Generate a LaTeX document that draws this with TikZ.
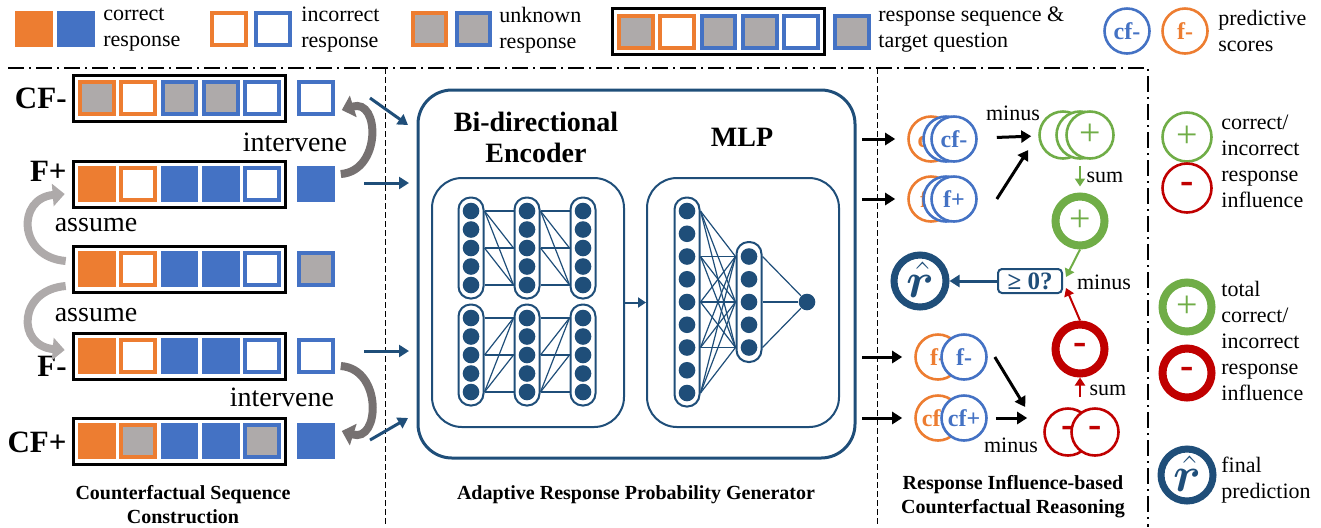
\documentclass[tikz,border=0pt]{standalone}
\usepackage{fontspec}
\setmainfont{Liberation Serif}
\usepackage{amsmath}
\usepackage{bm}
\usetikzlibrary{arrows.meta}
\usetikzlibrary{calc}
\usetikzlibrary{fit}
\usetikzlibrary{positioning}

\definecolor{corange}{HTML}{ED7D31}
\definecolor{cblue}{HTML}{4472C4}
\definecolor{cgray}{HTML}{AEAAAA}
\definecolor{cdark}{HTML}{767171}
\definecolor{navy}{HTML}{1F4E79}
\definecolor{cgreen}{HTML}{70AD47}
\definecolor{cred}{HTML}{C00000}

\tikzset{
  sq/.style={minimum width=18.8pt,minimum height=18pt,inner sep=0pt,outer sep=0pt},
  sqo/.style={sq,minimum width=16.8pt,minimum height=16pt,line width=2pt,outer sep=1pt},
  cor/.style={sq,fill=corange},
  cbl/.style={sq,fill=cblue},
  ior/.style={sqo,draw=corange,fill=white},
  ibl/.style={sqo,draw=cblue,fill=white},
  uor/.style={sqo,draw=corange,fill=cgray},
  ubl/.style={sqo,draw=cblue,fill=cgray},
  seqbox/.style={draw,line width=1.5pt,inner sep=2.5pt},
  txt/.style={font=\fontsize{11}{13}\selectfont,align=left,inner sep=0pt},
  rowlab/.style={font=\bfseries\fontsize{15.5}{16}\selectfont,anchor=east,inner sep=0pt},
  big/.style={font=\fontsize{14}{16}\selectfont,inner sep=0pt},
  captxt/.style={font=\bfseries\fontsize{10}{12}\selectfont,align=center,inner sep=0pt},
  bigarr/.style={line width=4pt,-{Triangle[length=6pt,width=11pt]}},
  inarr/.style={navy,line width=1.5pt,-{Triangle[length=5pt,width=6pt]}},
  outarr/.style={black,line width=1.5pt,-{Triangle[length=5pt,width=6pt]}},
  garr/.style={cgreen,line width=1pt,-{Triangle[length=4pt,width=5pt]}},
  rarr/.style={cred,line width=1pt,-{Triangle[length=4pt,width=5pt]}},
  pill/.style={draw=navy,line width=1pt,rounded corners=6pt,minimum width=12.5pt,inner sep=0pt},
  neuron/.style={circle,fill=navy,minimum size=8.3pt,inner sep=0pt},
  link/.style={navy,line width=0.6pt},
  score/.style={circle,draw,line width=1.3pt,fill=white,minimum size=22.5pt,inner sep=0pt,font=\bfseries\fontsize{12}{12}\selectfont},
  infl/.style={circle,draw,line width=1.3pt,fill=white,minimum size=23.5pt,inner sep=0pt},
  total/.style={circle,draw,line width=4pt,fill=white,minimum size=24.5pt,inner sep=0pt},
  rhat/.style={circle,draw=navy,line width=3.5pt,fill=white,minimum size=26pt,inner sep=0pt},
  rhtxt/.style={text=navy,inner sep=0pt,font=\fontsize{29}{29}\selectfont},
  pl/.style={font=\fontsize{19}{19}\selectfont},
  mi/.style={font=\bfseries\fontsize{20}{20}\selectfont},
}

\begin{document}
\begin{tikzpicture}[x=0.5pt,y=-0.5pt]
\useasboundingbox (0,0) rectangle (1321,527);

% legend
\node[cor] (l1a) at (34,29) {};
\node[cbl] (l1b) at (76,29) {};
\node[txt,anchor=west] (l1t) at (103,30) {correct\\response};
\node[ior] (l2a) at (229,29) {};
\node[ibl] (l2b) at (273,29) {};
\node[txt,anchor=west] (l2t) at (301,30) {incorrect\\response};
\node[uor] (l3a) at (429.5,29) {};
\node[ubl] (l3b) at (473.5,29) {};
\node[txt,anchor=west] (l3t) at (499,30) {unknown\\response};
\foreach \s [count=\i from 0] in {uor,ior,ubl,ubl,ibl}
  \node[\s] (lg\i) at ({636+41.25*\i},31.5) {};
\node[seqbox,fit=(lg0)(lg4)] (lgbox) {};
\node[ubl] (tlg) at (852,31.5) {};
\node[txt,anchor=west] (l4t) at (878,30) {response sequence \&\\target question};
\node[cblue,score] (lcf) at (1127,31) {cf-};
\node[corange,score] (lf) at (1185,31) {f-};
\node[txt,anchor=west] (l5t) at (1218,31) {predictive\\scores};

\draw[line width=0.8pt,dash pattern=on 8pt off 2.5pt on 1pt off 2.5pt] (8,68) -- (1148,68) -- (1148,527);
\draw[line width=0.5pt,dash pattern=on 3pt off 1.5pt] (385,68) -- (385,527);
\draw[line width=0.5pt,dash pattern=on 3pt off 1.5pt] (877,68) -- (877,527);

% sequences
\foreach \s [count=\i from 0] in {uor,ior,ubl,ubl,ibl}
  \node[\s] (cfm\i) at ({97+41.25*\i},98) {};
\node[seqbox,fit=(cfm0)(cfm4)] (cfmbox) {};
\node[ibl] (tcfm) at (316,98) {};
\node[rowlab] (lcfm) at (67,98) {CF-};

\foreach \s [count=\i from 0] in {cor,ior,cbl,cbl,ibl}
  \node[\s] (fp\i) at ({97+41.25*\i},184) {};
\node[seqbox,fit=(fp0)(fp4)] (fpbox) {};
\node[cbl] (tfp) at (316,184) {};
\node[rowlab] (lfp) at (67,171) {F+};

\foreach \s [count=\i from 0] in {cor,ior,cbl,cbl,ibl}
  \node[\s] (ob\i) at ({97+41.25*\i},269) {};
\node[seqbox,fit=(ob0)(ob4)] (obbox) {};
\node[ubl] (tob) at (316,269) {};

\foreach \s [count=\i from 0] in {cor,ior,cbl,cbl,ibl}
  \node[\s] (fm\i) at ({97+41.25*\i},356) {};
\node[seqbox,fit=(fm0)(fm4)] (fmbox) {};
\node[ibl] (tfm) at (316,356) {};
\node[rowlab] (lfm) at (67,366) {F-};

\foreach \s [count=\i from 0] in {cor,uor,cbl,cbl,ubl}
  \node[\s] (cfp\i) at ({97+41.25*\i},441) {};
\node[seqbox,fit=(cfp0)(cfp4)] (cfpbox) {};
\node[cbl] (tcfp) at (316,441) {};
\node[rowlab] (lcfp) at (67,442) {CF+};

\draw[bigarr,cdark] ($(tfp.east)+(6,-10)$) .. controls +(41,-3) and +(38,-12) .. ($(tcfm.east)+(7,12)$);
\draw[bigarr,cdark] ($(tfm.east)+(6,10)$) .. controls +(42,3) and +(38,12) .. ($(tcfp.east)+(7,-10)$);
\draw[bigarr,cgray] ($(obbox.west)+(-6,-8)$) .. controls +(-48,-4) and +(-48,4) .. ($(fpbox.west)+(-7,10)$);
\draw[bigarr,cgray] ($(obbox.west)+(-6,17)$) .. controls +(-48,4) and +(-48,-4) .. ($(fmbox.west)+(-7,-6)$);
\node[big] (iv1) at (295,142) {intervene};
\node[big] (iv2) at (282,397) {intervene};
\node[big] (as1) at (96,225) {assume};
\node[big] (as2) at (96,315) {assume};
\node[captxt] (cap1) at (183,505) {Counterfactual Sequence\\Construction};

% generator
\coordinate (ia1) at (370,98);  \coordinate (ib1) at (408,125);
\coordinate (ia2) at (364,183); \coordinate (ib2) at (409,183);
\coordinate (ia3) at (364,351); \coordinate (ib3) at (409,351);
\coordinate (ia4) at (370,440); \coordinate (ib4) at (408,418);
\foreach \k in {1,...,4}
  \draw[inarr] (ia\k) -- (ib\k);

\node[draw=navy,line width=1.5pt,rounded corners=17pt,minimum width=218.5pt,minimum height=184pt] (gen) at (636.5,274) {};
\node[draw=navy,line width=1pt,rounded corners=15pt,minimum width=96pt,minimum height=124.5pt] (enc) at (528,302.5) {};
\node[draw=navy,line width=1pt,rounded corners=15pt,minimum width=96pt,minimum height=124.5pt] (mlp) at (743,302.5) {};
\node[font=\bfseries\fontsize{14}{15.5}\selectfont,align=center] (enct) at (536,137.5) {Bi-directional\\Encoder};
\node[font=\bfseries\fontsize{14}{15.5}\selectfont] (mlpt) at (742,137) {MLP};
\draw[navy,line width=1pt,-{Triangle[length=4pt,width=5pt]}] (enc) -- (mlp);

\foreach \c/\x in {1/471,2/527,3/583} {
  \node[pill,minimum height=50.5pt] (pa\c) at (\x,248) {};
  \node[pill,minimum height=50.5pt] (pb\c) at (\x,355) {};
  \foreach \r in {1,...,5} {
    \node[neuron] (na\c\r) at (\x,{192.5+18.5*\r}) {};
    \node[neuron] (nb\c\r) at (\x,{299.5+18.5*\r}) {};
  }
}
\foreach \c/\d in {1/2,2/3} {
  \foreach \i/\j in {1/1,3/3,5/5,1/3,1/5,3/5}
    \draw[link] (pa\c.east |- na\c\i) -- (pa\d.west |- na\d\j);
  \foreach \i/\j in {1/1,3/3,5/5,5/3,5/1,3/1}
    \draw[link] (pb\c.east |- nb\c\i) -- (pb\d.west |- nb\d\j);
}

\node[pill,minimum height=104.5pt] (m1) at (687,302) {};
\node[pill,minimum height=60pt] (m2) at (749,302) {};
\foreach \r in {1,...,9}
  \node[neuron] (ma\r) at (687,{211+22.75*(\r-1)}) {};
\foreach \r in {1,...,5}
  \node[neuron] (mb\r) at (749,{256.5+22.75*(\r-1)}) {};
\node[neuron] (mo) at (807,302) {};
\foreach \i in {1,3,5,7,9}
  \foreach \j in {1,3,5}
    \draw[link] (m1.east |- ma\i) -- (m2.west |- mb\j);
\foreach \j in {1,3,5}
  \draw[link] (m2.east |- mb\j) -- (mo);
\node[captxt] (cap2) at (636,495) {Adaptive Response Probability Generator};

% reasoning
\node[corange,score] (o1) at (931,139) {cf-};
\node[cblue,score] (b1a) at (946,139) {};
\node[cblue,score] (b1) at (954,139) {cf-};
\node[corange,score] (o2) at (931,199) {f+};
\node[cblue,score] (b2a) at (946,199) {};
\node[cblue,score] (b2) at (954,199) {f+};
\node[corange,score] (o3) at (938,357) {f-};
\node[cblue,score] (b3) at (964,357) {f-};
\node[corange,score] (o4) at (938,418) {cf+};
\node[cblue,score] (b4) at (964,418) {cf+};

\coordinate (oa1) at (862,139);
\coordinate (oa2) at (862,199);
\coordinate (oa3) at (862,357);
\coordinate (oa4) at (862,418);
\foreach \k in {1,...,4}
  \draw[outarr,shorten >=6pt] (oa\k) -- (o\k);

\node[cgreen,infl] (g1a) at (1063,135) {};
\node[cgreen,infl] (g1b) at (1080,135) {};
\node[cgreen,infl,pl] (g1) at (1090,135) {+};
\node[cgreen,total,pl] (gt) at (1080,221) {+};
\node[cred,infl,mi] (r1a) at (1068,432) {-};
\node[cred,infl,mi] (r1) at (1095,432) {-};
\node[cred,total,mi] (rt) at (1080,349) {-};
\node[draw=navy,text=navy,line width=1pt,rounded corners=2pt,minimum width=32pt,minimum height=12pt,inner sep=0pt,font=\bfseries\fontsize{12.5}{12.5}\selectfont] (chk) at (1030,281) {≥ 0?};
\node[rhat] (rh) at (920,281) {};
\node[rhtxt] (rht) at (920,280) {$\bm{\hat{r}}$};

\draw[outarr,shorten <=9.5pt,shorten >=3.5pt] (b1) -- (g1a);
\draw[outarr] ($(b2.east)+(19,0)$) -- ($(g1a.west)+(-10,15)$);
\draw[outarr] ($(b3.east)+(7,0)$) -- ($(r1a.west)+(-18,-25)$);
\draw[outarr] ($(b4.east)+(8,0)$) -- ($(r1a.west)+(-16,-14)$);
\draw[garr,shorten <=3pt,shorten >=3pt] (g1b) -- (gt);
\draw[garr] (gt.south) -- ([xshift=1.5pt,yshift=-4.5pt]chk.north east);
\draw[rarr,shorten <=5pt] (rt.south |- r1a.north) -- (rt.south);
\draw[rarr] (rt.north) -- ([xshift=1.5pt,yshift=3pt]chk.south east);
\draw[inarr] (chk) -- (rh);

\node[txt] (mn1) at (1013,113) {minus};
\node[txt] (sm1) at (1105,177) {sum};
\node[txt] (mn2) at (1104,282) {minus};
\node[txt] (sm2) at (1108,390) {sum};
\node[txt] (mn3) at (1011,445) {minus};
\node[captxt] (cap3) at (1013,496.5) {Response Influence-based\\Counterfactual Reasoning};

% right legend
\node[cgreen,infl,pl,minimum size=24.5pt] (lg1) at (1187,137) {+};
\node[cred,infl,mi,minimum size=24.5pt] (lr1) at (1187,188) {-};
\node[txt,anchor=west] (lt1) at (1221,161) {correct/\\incorrect\\response\\influence};
\node[cgreen,total,pl] (lg2) at (1187,307) {+};
\node[cred,total,mi] (lr2) at (1187,373) {-};
\node[txt,anchor=west] (lt2) at (1221,340.5) {total\\correct/\\incorrect\\response\\influence};
\node[rhat] (lrh) at (1187,475) {};
\node[rhtxt] (lrht) at (1187,474) {$\bm{\hat{r}}$};
\node[txt,anchor=west] (lt3) at (1221,480) {final\\prediction};
\end{tikzpicture}
\end{document}
